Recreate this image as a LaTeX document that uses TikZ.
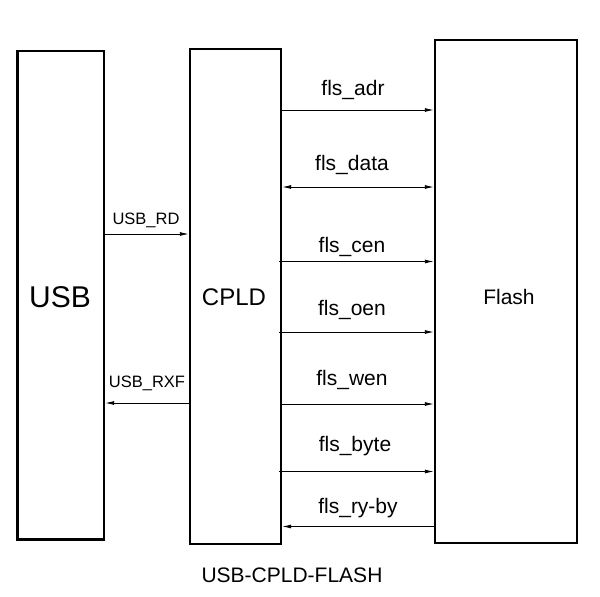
\documentclass[tikz,border=0pt]{standalone}
\usepackage{fontspec}
\setmainfont{Liberation Sans}
\usetikzlibrary{arrows.meta}
\begin{document}
\begin{tikzpicture}[x=1pt,y=-1pt,
  blk/.style={draw,line width=2.4pt,rectangle,inner sep=0pt,anchor=center},
  sig/.style={line width=0.9pt,-{Latex[length=9pt,width=4pt]}},
  bisig/.style={line width=0.9pt,{Latex[length=9pt,width=4pt]}-{Latex[length=9pt,width=4pt]}},
  lbl/.style={anchor=base,inner sep=0pt,font=\fontsize{21}{25}\selectfont},
  slbl/.style={anchor=base,inner sep=0pt,font=\fontsize{16.5}{20}\selectfont}]
\useasboundingbox (0,0) rectangle (600,597);
\fill[white] (0,0) rectangle (600,597);
% blocks
\node[blk,minimum width=86.5pt,minimum height=488.5pt] (usb) at (60.75,295.25) {};
\node[blk,minimum width=91pt,minimum height=495pt] (cpld) at (235.5,296.5) {};
\node[blk,minimum width=142pt,minimum height=503pt] (flash) at (506,291.5) {};
\node[anchor=base,inner sep=0pt,font=\fontsize{30}{36}\selectfont] (usbt) at (60,307) {USB};
\node[anchor=base,inner sep=0pt,font=\fontsize{24}{29}\selectfont] (cpldt) at (234,305) {CPLD};
\node[lbl] (flasht) at (509,304) {Flash};
\node[lbl] (title) at (292,582) {USB-CPLD-FLASH};
% row coordinates
\coordinate (rrd) at (0,234);
\coordinate (rrxf) at (0,403);
\coordinate (r1) at (0,110);
\coordinate (r2) at (0,187);
\coordinate (r3) at (0,261.5);
\coordinate (r4) at (0,332);
\coordinate (r5) at (0,404);
\coordinate (r6) at (0,471.5);
\coordinate (r7) at (0,526.5);
% USB <-> CPLD
\draw[sig] (usb.east |- rrd) -- (cpld.west |- rrd);
\draw[sig] (cpld.west |- rrxf) -- (usb.east |- rrxf);
\node[slbl] (lrd) at (146,224) {USB\_RD};
\node[slbl] (lrxf) at (147,387) {USB\_RXF};
% CPLD <-> Flash
\draw[sig] (cpld.east |- r1) -- (flash.west |- r1);
\draw[bisig] (cpld.east |- r2) -- (flash.west |- r2);
\draw[sig] ([xshift=-3pt]cpld.east |- r3) -- (flash.west |- r3);
\draw[sig] ([xshift=-3pt]cpld.east |- r4) -- (flash.west |- r4);
\draw[sig] (cpld.east |- r5) -- (flash.west |- r5);
\draw[sig] ([xshift=-3pt]cpld.east |- r6) -- (flash.west |- r6);
\draw[sig] (flash.west |- r7) -- (cpld.east |- r7);
\node[lbl] (l1) at (353,95.5) {fls\_adr};
\node[lbl] (l2) at (352,170) {fls\_data};
\node[lbl] (l3) at (352,252) {fls\_cen};
\node[lbl] (l4) at (352,315) {fls\_oen};
\node[lbl] (l5) at (352,385) {fls\_wen};
\node[lbl] (l6) at (355,451.5) {fls\_byte};
\node[lbl] (l7) at (358,513) {fls\_ry-by};
\end{tikzpicture}
\end{document}
